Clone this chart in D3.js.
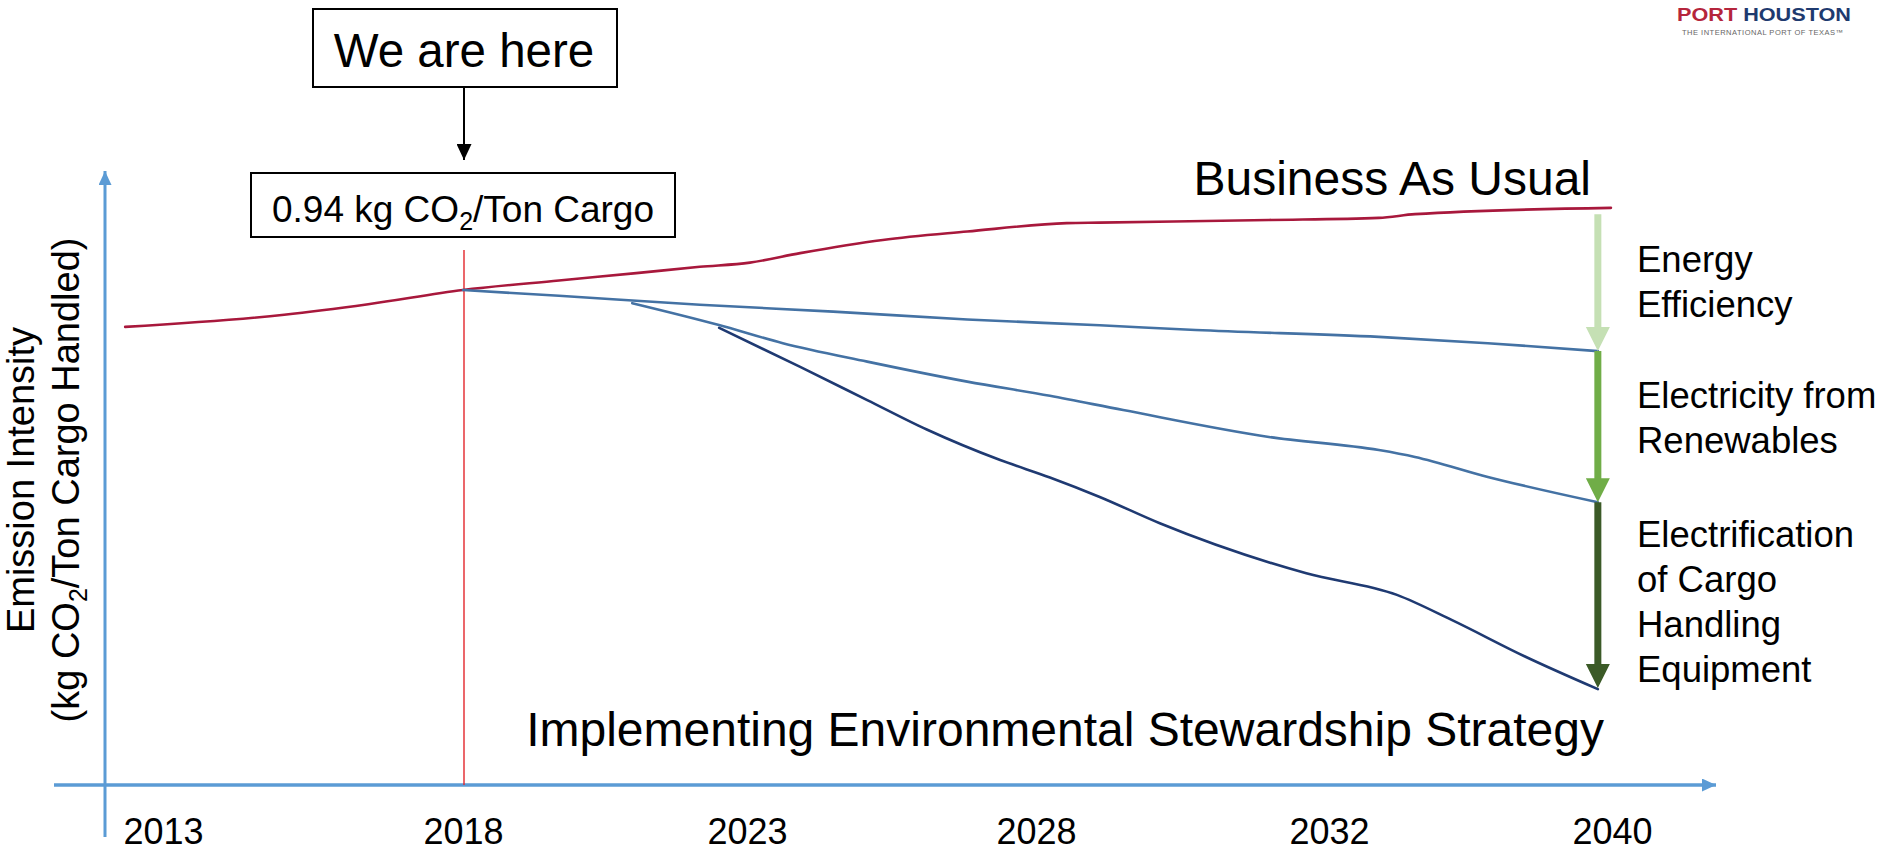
<!DOCTYPE html>
<html>
<head>
<meta charset="utf-8">
<script src="https://cdn.jsdelivr.net/npm/d3@7"></script>
<style>
  html, body { margin: 0; padding: 0; background: #fff; }
  svg { display: block; font-family: "Liberation Sans", Arial, sans-serif; }
</style>
</head>
<body>
<svg id="chart" width="1883" height="858"></svg>
<script>
// ---- data: emission intensity, kg CO2 per ton of cargo handled ----
const tickYears = [2013, 2018, 2023, 2028, 2032, 2040];
const currentYear = 2018;
const currentIntensity = 0.94;

const businessAsUsual = [
  [2012.37, 0.870], [2015.02, 0.893], [2016.42, 0.913], [2018.00, 0.940],
  [2019.69, 0.958], [2021.05, 0.972], [2022.17, 0.984], [2023.05, 0.992],
  [2023.92, 1.010], [2025.35, 1.035], [2026.81, 1.051], [2028.42, 1.067],
  [2028.87, 1.068], [2031.18, 1.073], [2033.41, 1.077], [2034.43, 1.084],
  [2039.97, 1.096]
];
const energyEfficiency = [
  [2018.00, 0.940], [2019.69, 0.929], [2022.17, 0.912], [2024.49, 0.899],
  [2026.81, 0.884], [2028.87, 0.873], [2030.18, 0.864], [2033.41, 0.851],
  [2036.49, 0.839], [2039.60, 0.824]
];
const renewables = [
  [2020.98, 0.915], [2022.49, 0.874], [2023.62, 0.839], [2025.08, 0.804],
  [2026.81, 0.766], [2028.19, 0.739], [2029.19, 0.712], [2031.18, 0.661],
  [2033.41, 0.636], [2034.43, 0.623], [2036.49, 0.585], [2039.60, 0.537]
];
const electrification = [
  [2022.51, 0.868], [2023.92, 0.794], [2025.08, 0.731], [2026.11, 0.675],
  [2027.38, 0.617], [2028.19, 0.584], [2028.87, 0.547], [2029.69, 0.497],
  [2031.69, 0.402], [2033.92, 0.361], [2035.48, 0.313], [2037.54, 0.244],
  [2039.60, 0.182]
];

const stepYear = 2039.6;
const reductionSteps = [
  { label: ["Energy", "Efficiency"], from: 1.084, to: 0.824 },
  { label: ["Electricity from", "Renewables"], from: 0.824, to: 0.537 },
  { label: ["Electrification", "of Cargo", "Handling", "Equipment"], from: 0.537, to: 0.184 }
];

// ---- layout ----
const svg = d3.select("#chart");
const axisY = 785;          // x-axis baseline
const axisX = 105;          // y-axis position

const x = d3.scaleLinear()
  .domain(tickYears)
  .range([163, 463, 747, 1036, 1329, 1612]);

const y = d3.scaleLinear()
  .domain([0, 1.2])
  .range([axisY, axisY - 1.2 * 526.6]);

const stepColors = ["#c5e0b4", "#70ad47", "#3b5a27"];
const blue = "#5b9bd5";

// ---- axes ----
const defs = svg.append("defs");
function arrowMarker(id, color, w, h) {
  defs.append("marker")
    .attr("id", id)
    .attr("viewBox", `0 0 ${w} ${h}`)
    .attr("refX", w).attr("refY", h / 2)
    .attr("markerWidth", w).attr("markerHeight", h)
    .attr("markerUnits", "userSpaceOnUse")
    .attr("orient", "auto")
    .append("path")
    .attr("d", `M0,0 L${w},${h / 2} L0,${h} Z`)
    .attr("fill", color);
}
arrowMarker("axisHead", blue, 14, 13);
arrowMarker("blackHead", "#000", 16, 15);

svg.append("line")
  .attr("x1", 54).attr("x2", 1716)
  .attr("y1", axisY).attr("y2", axisY)
  .attr("stroke", blue).attr("stroke-width", 3.5)
  .attr("marker-end", "url(#axisHead)");

svg.append("line")
  .attr("x1", axisX).attr("x2", axisX)
  .attr("y1", 837).attr("y2", 171)
  .attr("stroke", blue).attr("stroke-width", 3)
  .attr("marker-end", "url(#axisHead)");

const xAxis = d3.axisBottom(x)
  .tickValues(tickYears)
  .tickFormat(d3.format("d"))
  .tickSize(0)
  .tickPadding(33);

svg.append("g")
  .attr("transform", `translate(0,${axisY})`)
  .call(xAxis)
  .call(g => g.select(".domain").remove())
  .call(g => g.selectAll("text")
    .attr("font-family", "'Liberation Sans', Arial, sans-serif")
    .attr("font-size", 36)
    .attr("fill", "#000"));

// y-axis title
const yTitle = [
  { x: 34, parts: [["Emission Intensity", 0]] },
  { x: 79, parts: [["(kg CO", 0], ["2", 1], ["/Ton Cargo Handled)", -1]] }
];
yTitle.forEach(line => {
  const t = svg.append("text")
    .attr("transform", `translate(${line.x},480) rotate(-90)`)
    .attr("text-anchor", "middle")
    .attr("font-size", 38)
    .attr("fill", "#000");
  line.parts.forEach(([txt, sub]) => {
    t.append("tspan")
      .attr("dy", sub === 1 ? 8 : sub === -1 ? -8 : 0)
      .attr("font-size", sub === 1 ? 25 : 38)
      .text(txt);
  });
});

// ---- current-year marker ----
svg.append("line")
  .attr("x1", x(currentYear) + 1).attr("x2", x(currentYear) + 1)
  .attr("y1", 250).attr("y2", axisY)
  .attr("stroke", "#e3262b").attr("stroke-width", 1.4);

// ---- scenario lines ----
const line = d3.line()
  .x(d => x(d[0]))
  .y(d => y(d[1]))
  .curve(d3.curveMonotoneX);

const series = [
  { data: businessAsUsual, color: "#a8183c" },
  { data: energyEfficiency, color: "#4472a4" },
  { data: renewables, color: "#4472a4" },
  { data: electrification, color: "#1f3a72" }
];
svg.append("g").selectAll("path")
  .data(series)
  .join("path")
  .attr("d", d => line(d.data))
  .attr("fill", "none")
  .attr("stroke", d => d.color)
  .attr("stroke-width", 2.6)
  .attr("stroke-linecap", "round");

// ---- reduction arrows ----
const shaftW = 7, headW = 24, headL = 24;
const ax = x(stepYear);
const labelOffsets = [58, 57, 45];
reductionSteps.forEach((s, i) => {
  const y0 = y(s.from), y1 = y(s.to);
  const yh = y1 - headL;
  svg.append("path")
    .attr("d", `M${ax - shaftW / 2},${y0} L${ax + shaftW / 2},${y0} L${ax + shaftW / 2},${yh}
                L${ax + headW / 2},${yh} L${ax},${y1} L${ax - headW / 2},${yh}
                L${ax - shaftW / 2},${yh} Z`)
    .attr("fill", stepColors[i]);

  const t = svg.append("text")
    .attr("x", 1637)
    .attr("y", y0 + labelOffsets[i])
    .attr("font-size", 36.5)
    .attr("fill", "#000");
  s.label.forEach((txt, k) => {
    t.append("tspan").attr("x", 1637).attr("dy", k === 0 ? 0 : 45).text(txt);
  });
});

// ---- scenario titles ----
svg.append("text")
  .attr("x", 1591).attr("y", 195)
  .attr("text-anchor", "end")
  .attr("font-size", 48)
  .text("Business As Usual");

svg.append("text")
  .attr("x", 1604).attr("y", 746)
  .attr("text-anchor", "end")
  .attr("font-size", 48)
  .text("Implementing Environmental Stewardship Strategy");

// ---- callouts ----
const cx = x(currentYear) + 1;
svg.append("rect")
  .attr("x", 313).attr("y", 9).attr("width", 304).attr("height", 78)
  .attr("fill", "#fff").attr("stroke", "#000").attr("stroke-width", 2);
svg.append("text")
  .attr("x", 464).attr("y", 67)
  .attr("text-anchor", "middle")
  .attr("font-size", 47.5)
  .text("We are here");
svg.append("line")
  .attr("x1", cx).attr("x2", cx)
  .attr("y1", 87).attr("y2", 160)
  .attr("stroke", "#000").attr("stroke-width", 2)
  .attr("marker-end", "url(#blackHead)");

svg.append("rect")
  .attr("x", 251).attr("y", 173).attr("width", 424).attr("height", 64)
  .attr("fill", "#fff").attr("stroke", "#000").attr("stroke-width", 2);
const valueLabel = svg.append("text")
  .attr("x", 463).attr("y", 221.5)
  .attr("text-anchor", "middle")
  .attr("font-size", 37);
valueLabel.append("tspan").text(`${currentIntensity} kg CO`);
valueLabel.append("tspan").attr("dy", 8).attr("font-size", 25).text("2");
valueLabel.append("tspan").attr("dy", -8).text("/Ton Cargo");

// ---- logo ----
const logo = svg.append("text")
  .attr("x", 1677).attr("y", 20.7)
  .attr("font-size", 19).attr("font-weight", "bold")
  .attr("textLength", 174).attr("lengthAdjust", "spacingAndGlyphs");
logo.append("tspan").attr("fill", "#b5253c").text("PORT ");
logo.append("tspan").attr("fill", "#1e3a6f").text("HOUSTON");
svg.append("text")
  .attr("x", 1682).attr("y", 35.3)
  .attr("font-size", 7.5)
  .attr("fill", "#666")
  .attr("textLength", 161).attr("lengthAdjust", "spacing")
  .text("THE INTERNATIONAL PORT OF TEXAS\u2122");
</script>
</body>
</html>
